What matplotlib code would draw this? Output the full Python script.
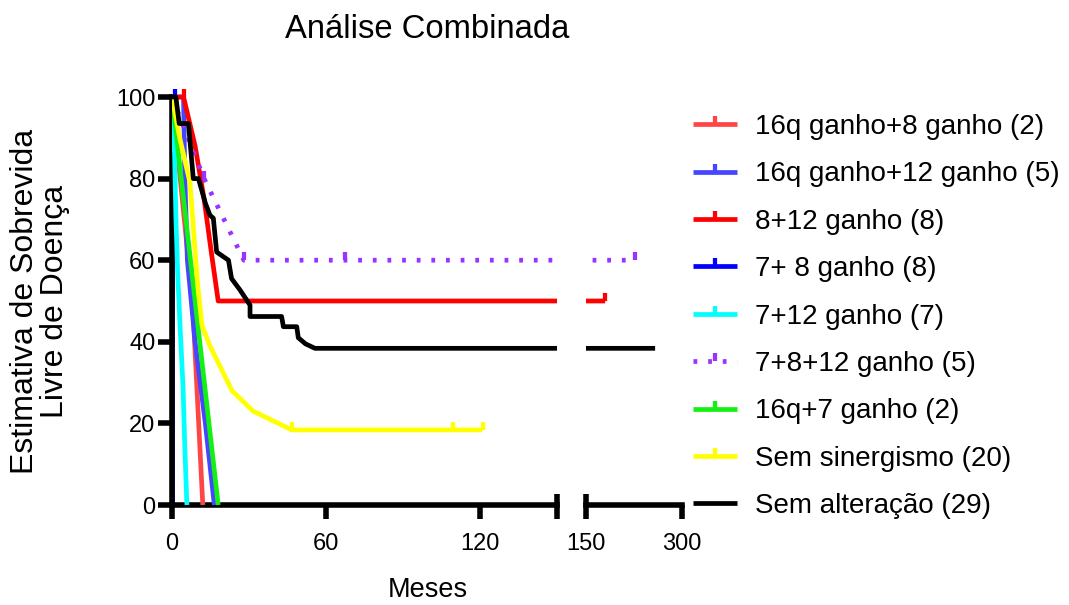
import matplotlib
matplotlib.use("Agg")
import matplotlib.pyplot as plt
import matplotlib.transforms as mtransforms
from matplotlib.lines import Line2D
from matplotlib.path import Path

plt.rcParams["font.family"] = ["Liberation Sans", "DejaVu Sans"]

# --- Kaplan-Meier curves: time (months) vs. disease-free survival (%) ---
labels = [
    "16q ganho+8 ganho (2)",
    "16q ganho+12 ganho (5)",
    "8+12 ganho (8)",
    "7+ 8 ganho (8)",
    "7+12 ganho (7)",
    "7+8+12 ganho (5)",
    "16q+7 ganho (2)",
    "Sem sinergismo (20)",
    "Sem alteração (29)",
]

t_16q8 = [0, 8, 12]
s_16q8 = [100, 50, 0]

t_16q12 = [0, 4.5, 5, 6, 9, 13, 16.5]
s_16q12 = [100, 100, 80, 60, 40, 20, 0]

t_8_12 = [0, 4.5, 9, 12.5, 15.2, 18, 180]
s_8_12 = [100, 100, 88, 75, 62.5, 50, 50]
cens_t_8_12 = [4.5, 180]
cens_s_8_12 = [100, 50]

t_7_8 = [0, 0]
s_7_8 = [100, 0]
cens_t_7_8 = [1]
cens_s_7_8 = [100]

t_7_12 = [0, 1, 1.5, 2.2, 3.2, 4.3, 5, 5.8]
s_7_12 = [100, 86, 71, 57, 43, 29, 14, 0]

t_7_8_12 = [0, 12.5, 28, 226]
s_7_8_12 = [100, 80, 60, 60]
cens_t_7_8_12 = [12.5, 28, 67.5, 226]
cens_s_7_8_12 = [80, 60, 60, 60]

t_16q7 = [0, 9, 18]
s_16q7 = [100, 50, 0]

t_sem_sin = [0, 3, 7, 10, 11.7, 14.8, 17.5, 23.4, 31.6, 46.7, 121]
s_sem_sin = [100, 90, 79, 54, 44, 39, 35.5, 28, 23, 18.4, 18.4]
cens_t_sem_sin = [46.7, 109.5, 121]
cens_s_sem_sin = [18.4, 18.4, 18.4]

t_sem_alt = [0, 1.5, 2.8, 6.4, 8.3, 10.3, 13, 14.8, 16.1, 17.4, 22, 23.2,
             26.5, 30.4, 30.4, 42.7, 43.4, 48.6, 49.2, 52, 55.7, 258]
s_sem_alt = [100, 100, 93.5, 93.5, 80, 80, 74, 71, 70.3, 62, 60, 55.5,
             52.7, 49, 46.2, 46.2, 43.7, 43.7, 41, 39.5, 38.4, 38.4]

colors = ["#FF4646", "#4646FF", "#FF0000", "#0000FF", "#00FFFF",
          "#9933FF", "#14F014", "#FFFF00", "#000000"]

series = [
    (t_16q8, s_16q8, [], []),
    (t_16q12, s_16q12, [], []),
    (t_8_12, s_8_12, cens_t_8_12, cens_s_8_12),
    (t_7_8, s_7_8, cens_t_7_8, cens_s_7_8),
    (t_7_12, s_7_12, [], []),
    (t_7_8_12, s_7_8_12, cens_t_7_8_12, cens_s_7_8_12),
    (t_16q7, s_16q7, [], []),
    (t_sem_sin, s_sem_sin, cens_t_sem_sin, cens_s_sem_sin),
    (t_sem_alt, s_sem_alt, [], []),
]

LW = 3.4
DOTTED = (0, (0.8, 2.3))
TICK = Path([(0, 0), (0, 1)], [Path.MOVETO, Path.LINETO])  # censor mark, points up

W, H = 1069, 605
fig = plt.figure(figsize=(W / 100, H / 100), dpi=100)

# broken x axis: 0-150 months on the left, 150-300 squeezed on the right
ybot, yh = (H - 509.08) / H, 416.16 / H
ax1 = fig.add_axes([172 / W, ybot, 385 / W, yh])
ax2 = fig.add_axes([586 / W, ybot, 96 / W, yh], sharey=ax1)
ax1.set_xlim(0, 150)
ax2.set_xlim(150, 300)
ax1.set_ylim(-1, 101)


def draw_curves(ax):
    lo, hi = ax.get_xlim()
    for i, (t, s, ct, cs) in enumerate(series):
        ls = DOTTED if i == 5 else "-"
        z = 2 if i == 3 else 3
        ax.plot(t, s, color=colors[i], lw=LW, ls=ls, zorder=z,
                solid_capstyle="butt", dash_capstyle="butt")
        pts = [(x, y) for x, y in zip(ct, cs) if lo <= x <= hi]
        if pts:
            ax.plot([p[0] for p in pts], [p[1] for p in pts], ls="none",
                    marker=TICK, ms=11, mew=LW * 0.9, mec=colors[i],
                    clip_on=False, zorder=3)


for ax in (ax1, ax2):
    draw_curves(ax)
    for side in ("top", "right"):
        ax.spines[side].set_visible(False)
    ax.spines["bottom"].set_position(("data", 0))
    ax.spines["bottom"].set_linewidth(4)
    ax.spines["left"].set_linewidth(4)
    ax.tick_params(axis="both", direction="out", length=10, width=4,
                   labelsize=17, color="black")
    ax.tick_params(axis="x", pad=10)
    ax.tick_params(axis="y", pad=2)

ax1.spines["left"].set_bounds(0, 100)
ax1.set_yticks([0, 20, 40, 60, 80, 100])
ax1.set_xticks([0, 60, 120, 150])
ax1.set_xticklabels(["0", "60", "120", ""])

ax2.spines["left"].set_visible(False)
ax2.tick_params(axis="y", left=False, labelleft=False)
ax2.set_xticks([150, 300])
ax2.set_xticklabels(["150", "300"])

# upward caps on either side of the break
for ax, xa in ((ax1, 1), (ax2, 0)):
    trans = mtransforms.blended_transform_factory(ax.transAxes, ax.transData)
    ax.plot([xa, xa], [0, 2.6], color="black", lw=4, transform=trans,
            clip_on=False, solid_capstyle="butt")

ax1.set_ylabel("Estimativa de Sobrevida\nLivre de Doença", fontsize=23,
               linespacing=1.0)
ax1.yaxis.set_label_coords(-0.265, 0.5)

fig.text(427 / W, 1 - 30 / H, "Análise Combinada", fontsize=23.6,
         ha="center", va="center")
fig.text(428 / W, 1 - 590 / H, "Meses", fontsize=19.5, ha="center", va="center")

handles = []
for i in range(len(labels)):
    ls = DOTTED if i == 5 else "-"
    mk = None if i == 8 else TICK
    handles.append(Line2D([], [], color=colors[i], lw=LW, ls=ls, marker=mk,
                          ms=11, mew=LW * 0.9, mec=colors[i],
                          solid_capstyle="butt", dash_capstyle="butt"))

fig.legend(handles, labels, loc="upper left",
           bbox_to_anchor=(693 / W, 1 - 114 / H), frameon=False, fontsize=20,
           handlelength=1.58, handletextpad=0.65, labelspacing=0.77,
           borderpad=0, borderaxespad=0, numpoints=1)

fig.savefig("out.png", dpi=100)
